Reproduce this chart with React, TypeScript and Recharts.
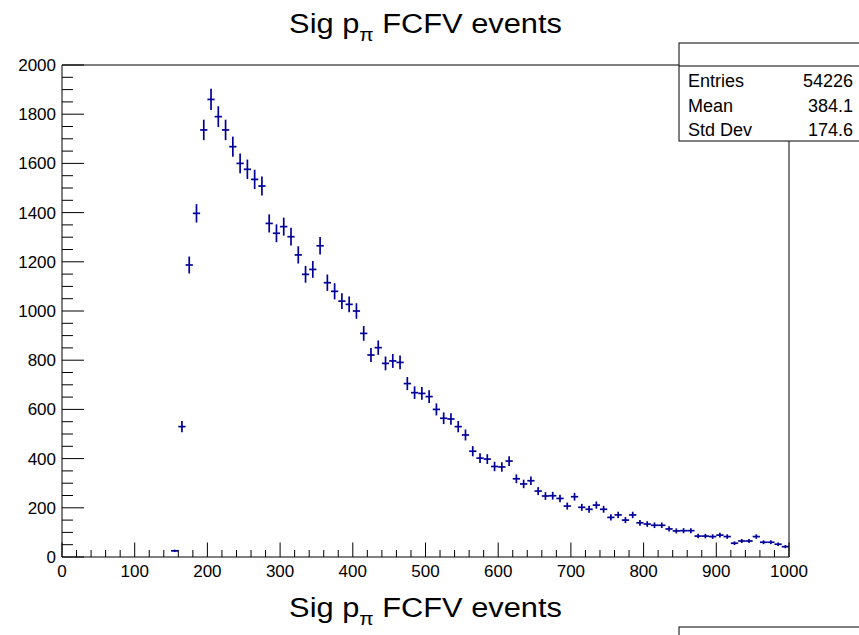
import React from 'react';
import {
  ComposedChart,
  Scatter,
  ErrorBar,
  XAxis,
  YAxis,
  ReferenceArea,
} from 'recharts';

// histogram: bin centres (bin width 10) and counts
const binCenters = [
  155, 165, 175, 185, 195, 205, 215, 225, 235, 245,
  255, 265, 275, 285, 295, 305, 315, 325, 335, 345,
  355, 365, 375, 385, 395, 405, 415, 425, 435, 445,
  455, 465, 475, 485, 495, 505, 515, 525, 535, 545,
  555, 565, 575, 585, 595, 605, 615, 625, 635, 645,
  655, 665, 675, 685, 695, 705, 715, 725, 735, 745,
  755, 765, 775, 785, 795, 805, 815, 825, 835, 845,
  855, 865, 875, 885, 895, 905, 915, 925, 935, 945,
  955, 965, 975, 985, 995,
];
const counts = [
  25, 530, 1187, 1397, 1736, 1860, 1790, 1736, 1668, 1600,
  1576, 1535, 1508, 1356, 1316, 1343, 1302, 1228, 1149, 1169,
  1265, 1115, 1080, 1040, 1027, 1000, 909, 821, 851, 787,
  797, 791, 705, 668, 665, 652, 600, 564, 561, 530,
  496, 430, 402, 398, 368, 366, 390, 318, 297, 310,
  268, 248, 249, 238, 207, 245, 202, 194, 211, 194,
  161, 171, 150, 171, 139, 134, 129, 129, 114, 106,
  107, 107, 85, 85, 83, 89, 83, 56, 65, 65,
  83, 60, 60, 52, 42,
];
const binHalfWidth = 5;

const xMajorTicks = [0, 100, 200, 300, 400, 500, 600, 700, 800, 900, 1000];
const yMajorTicks = [0, 200, 400, 600, 800, 1000, 1200, 1400, 1600, 1800, 2000];
const xTicks = Array.from({ length: 51 }, (_, i) => i * 20);
const yTicks = Array.from({ length: 41 }, (_, i) => i * 50);

const statsLabels = ['Entries', 'Mean', 'Std Dev'];
const statsValues = ['54226', '384.1', '174.6'];

const titleText = 'Sig p';
const titleSub = 'π';
const titleRest = ' FCFV events';

const data = binCenters.map((x, i) => ({
  x,
  y: counts[i],
  ex: binHalfWidth,
  ey: Math.sqrt(counts[i]),
}));

const FONT = '"Liberation Sans", Arial, Helvetica, sans-serif';
const MARKER = '#000099';

const XTick = ({ x, y, payload }: any) => {
  const major = xMajorTicks.includes(payload.value);
  return (
    <g>
      <line x1={x} x2={x} y1={y} y2={y - (major ? 14.5 : 7)} stroke="#000" />
      {major && (
        <text x={x} y={y + 20} textAnchor="middle" fontSize={17} fontFamily={FONT} fill="#000">
          {payload.value}
        </text>
      )}
    </g>
  );
};

const YTick = ({ x, y, payload }: any) => {
  const major = yMajorTicks.includes(payload.value);
  return (
    <g>
      <line x1={x} x2={x + (major ? 22 : 11)} y1={y} y2={y} stroke="#000" />
      {major && (
        <text x={x - 6} y={y + 6} textAnchor="end" fontSize={17} fontFamily={FONT} fill="#000">
          {payload.value}
        </text>
      )}
    </g>
  );
};

const Title = ({ y }: { y: number }) => (
  <text
    transform={`translate(425.5, ${y}) scale(1.1, 1)`}
    textAnchor="middle"
    fontSize={28}
    fontFamily={FONT}
    fill="#000"
  >
    {titleText}
    <tspan dy={8} fontSize={19}>{titleSub}</tspan>
    <tspan dy={-8}>{titleRest}</tspan>
  </text>
);

export default function App() {
  return (
    <div style={{ position: 'absolute', left: 0, top: 0, width: 859, height: 635, background: '#fff' }}>
      <ComposedChart
        width={859}
        height={635}
        data={data}
        margin={{ top: 65, right: 70, left: 61, bottom: 77 }}
      >
        <XAxis
          type="number"
          dataKey="x"
          domain={[0, 1000]}
          ticks={xTicks}
          interval={0}
          height={1}
          tickSize={0}
          tickMargin={0}
          tickLine={false}
          axisLine={false}
          tick={<XTick />}
          allowDataOverflow
        />
        <YAxis
          type="number"
          dataKey="y"
          domain={[0, 2000]}
          ticks={yTicks}
          interval={0}
          width={1}
          tickSize={0}
          tickMargin={0}
          tickLine={false}
          axisLine={false}
          tick={<YTick />}
          allowDataOverflow
        />
        <ReferenceArea x1={0} x2={1000} y1={0} y2={2000} fill="none" stroke="#000" strokeWidth={1} />
        <Scatter data={data} dataKey="y" isAnimationActive={false} shape={() => <g />}>
          <ErrorBar dataKey="ey" direction="y" width={0} stroke={MARKER} strokeWidth={1.7} isAnimationActive={false} />
          <ErrorBar dataKey="ex" direction="x" width={0} stroke={MARKER} strokeWidth={1.7} isAnimationActive={false} />
        </Scatter>
      </ComposedChart>
      <svg
        width={859}
        height={635}
        style={{ position: 'absolute', left: 0, top: 0, pointerEvents: 'none' }}
      >
        <Title y={33} />
        <rect x={679} y={43} width={200} height={98} fill="#fff" stroke="#000" strokeWidth={1} />
        <line x1={679} x2={879} y1={66} y2={66} stroke="#000" />
        {statsLabels.map((label, i) => (
          <g key={label}>
            <text x={688} y={87 + i * 24.5} fontSize={18} fontFamily={FONT} fill="#000">
              {label}
            </text>
            <text x={853} y={87 + i * 24.5} textAnchor="end" fontSize={18} fontFamily={FONT} fill="#000">
              {statsValues[i]}
            </text>
          </g>
        ))}
        <Title y={617} />
        <rect x={679} y={627} width={200} height={40} fill="#fff" stroke="#000" strokeWidth={1} />
      </svg>
    </div>
  );
}
